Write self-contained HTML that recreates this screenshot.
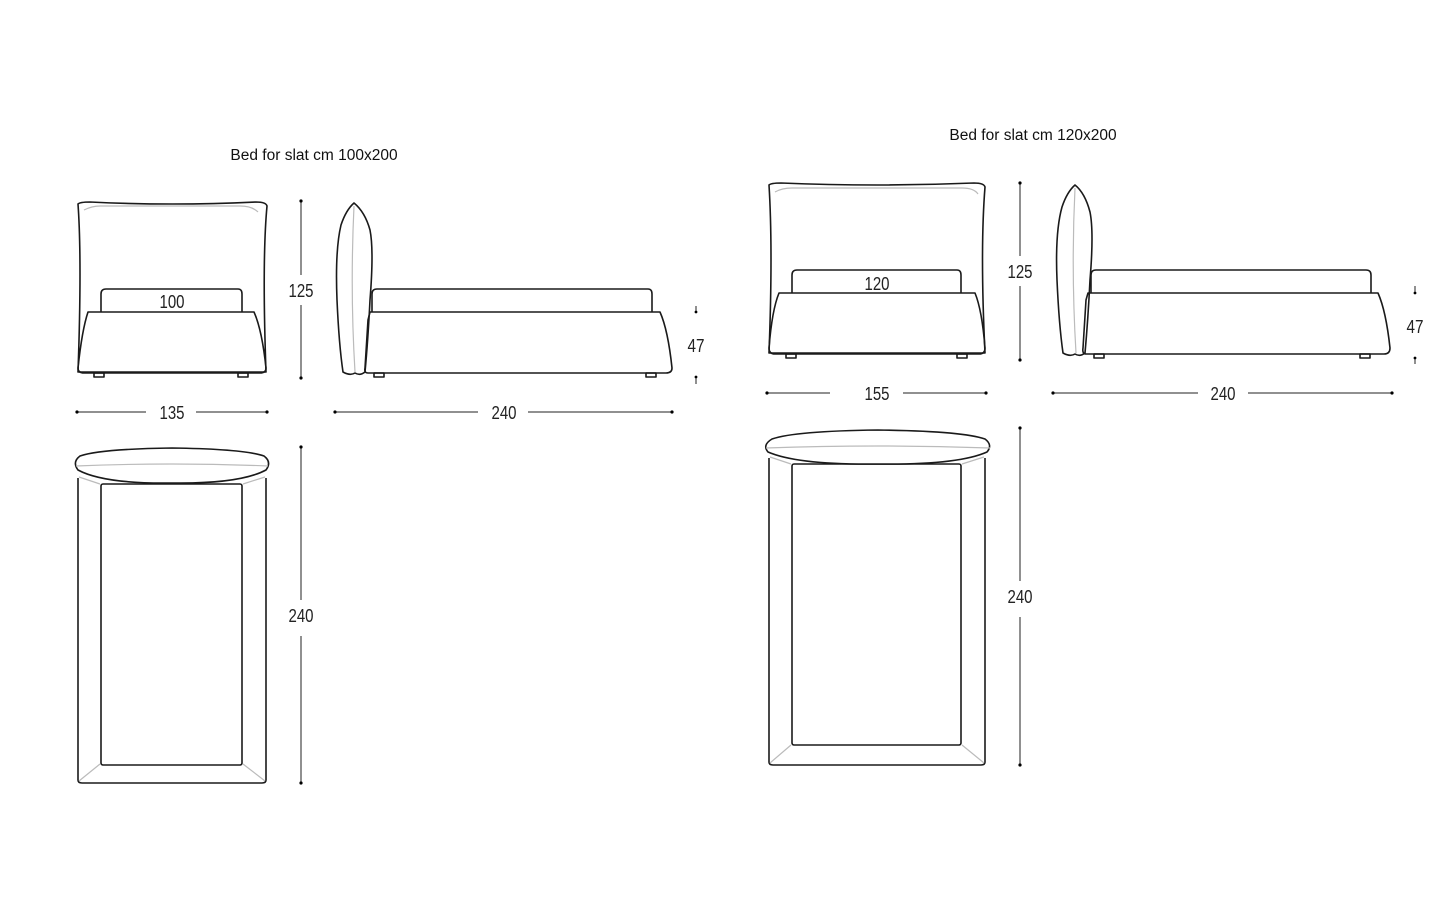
<!DOCTYPE html>
<html><head><meta charset="utf-8"><style>
html,body{margin:0;padding:0;background:#fff;width:1440px;height:900px;overflow:hidden}
svg{display:block}
.o{fill:none;stroke:#1a1a1a;stroke-width:1.6;stroke-linejoin:round}
.g{fill:none;stroke:#bbb;stroke-width:1.2}
.d{stroke:#222;stroke-width:1}
.t{font-family:"Liberation Sans",sans-serif;font-size:18px;fill:#222;text-anchor:middle}
.h{font-family:"Liberation Sans",sans-serif;font-size:15.5px;fill:#111;text-anchor:middle}
</style></head><body>
<svg width="1440" height="900" viewBox="0 0 1440 900">
<text class="h" x="314" y="160">Bed for slat cm 100x200</text>
<text class="h" x="1033" y="140">Bed for slat cm 120x200</text>

<!-- LEFT FRONT -->
<path class="o" d="M78,204 Q80,202 90,202 Q172,206 256,202 Q266,202 267,206 Q262,260 266,372 L78,372 Q82,260 78,204 Z"/>
<path class="g" d="M84,210 Q92,206 100,206 L240,206 Q252,206 258,212"/>
<path class="o" d="M101,312 L101,294 Q101,289 106,289 L238,289 Q242,289 242,294 L242,312"/>
<path class="o" d="M88,312 L254,312 Q262,330 266,368 Q266,373 260,373 L84,373 Q78,373 78,368 Q82,330 88,312 Z"/>
<rect class="o" x="94" y="373" width="10" height="4"/><rect class="o" x="238" y="373" width="10" height="4"/>
<line class="d" x1="301" y1="201" x2="301" y2="275"/><line class="d" x1="301" y1="305" x2="301" y2="378"/>
<circle cx="301" cy="201" r="1.6"/><circle cx="301" cy="378" r="1.6"/>
<text class="t" x="301" y="297" textLength="25" lengthAdjust="spacingAndGlyphs">125</text>
<text class="t" x="172" y="308" textLength="25" lengthAdjust="spacingAndGlyphs">100</text>
<line class="d" x1="77" y1="412" x2="146" y2="412"/><line class="d" x1="196" y1="412" x2="267" y2="412"/>
<circle cx="77" cy="412" r="1.6"/><circle cx="267" cy="412" r="1.6"/>
<text class="t" x="172" y="419" textLength="25" lengthAdjust="spacingAndGlyphs">135</text>

<!-- LEFT SIDE -->
<path class="o" d="M354,203 Q346,210 341,225 Q335,250 337,300 Q339,345 343,372 Q350,376 355,373 Q360,376 365,372 Q368,340 370,300 Q374,250 370,230 Q365,212 354,203 Z"/>
<path class="g" d="M354,206 Q350,290 355,372"/>
<path class="o" d="M372,312 L372,294 Q372,289 377,289 L648,289 Q652,289 652,294 L652,312"/>
<path class="o" d="M370,312 L660,312 Q668,330 672,368 Q672,373 666,373 L368,373 Q364,373 365,368 L368,320 Z"/>
<rect class="o" x="374" y="373" width="10" height="4"/><rect class="o" x="646" y="373" width="10" height="4"/>
<line class="d" x1="335" y1="412" x2="478" y2="412"/><line class="d" x1="528" y1="412" x2="672" y2="412"/>
<circle cx="335" cy="412" r="1.6"/><circle cx="672" cy="412" r="1.6"/>
<text class="t" x="504" y="419" textLength="25" lengthAdjust="spacingAndGlyphs">240</text>
<line class="d" x1="696" y1="306" x2="696" y2="312"/><circle cx="696" cy="312" r="1.4"/>
<line class="d" x1="696" y1="378" x2="696" y2="384"/><circle cx="696" cy="377" r="1.4"/>
<text class="t" x="696" y="352" textLength="17" lengthAdjust="spacingAndGlyphs">47</text>

<!-- LEFT TOP -->
<path class="o" d="M78,478 L78,780 Q78,783 82,783 L262,783 Q266,783 266,780 L266,478"/>
<rect class="o" x="101" y="484" width="141" height="281" rx="2"/>
<path class="g" d="M79,477 L100,484 M265,477 L243,484 M79,781 L100,764 M265,781 L243,764"/>
<path class="o" fill="#fff" d="M80,456 Q100,449 172,448 Q244,449 264,456 Q272,462 266,470 Q240,484 172,483 Q104,484 78,470 Q72,462 80,456 Z" style="fill:#fff"/>
<path class="g" d="M76,466 Q172,462 268,466"/>
<line class="d" x1="301" y1="447" x2="301" y2="600"/><line class="d" x1="301" y1="636" x2="301" y2="783"/>
<circle cx="301" cy="447" r="1.6"/><circle cx="301" cy="783" r="1.6"/>
<text class="t" x="301" y="622" textLength="25" lengthAdjust="spacingAndGlyphs">240</text>

<!-- RIGHT FRONT -->
<path class="o" d="M769,185 Q771,183 781,183 Q877,187 974,183 Q984,183 985,187 Q980,250 985,353 L769,353 Q773,250 769,185 Z"/>
<path class="g" d="M775,192 Q782,188 792,188 L962,188 Q974,188 978,194"/>
<path class="o" d="M792,293 L792,275 Q792,270 797,270 L957,270 Q961,270 961,275 L961,293"/>
<path class="o" d="M779,293 L975,293 Q982,310 985,348 Q985,354 979,354 L775,354 Q769,354 769,348 Q772,310 779,293 Z"/>
<rect class="o" x="786" y="354" width="10" height="4"/><rect class="o" x="957" y="354" width="10" height="4"/>
<line class="d" x1="1020" y1="183" x2="1020" y2="256"/><line class="d" x1="1020" y1="286" x2="1020" y2="360"/>
<circle cx="1020" cy="183" r="1.6"/><circle cx="1020" cy="360" r="1.6"/>
<text class="t" x="1020" y="278" textLength="25" lengthAdjust="spacingAndGlyphs">125</text>
<text class="t" x="877" y="290" textLength="25" lengthAdjust="spacingAndGlyphs">120</text>
<line class="d" x1="767" y1="393" x2="830" y2="393"/><line class="d" x1="870" y1="393" x2="870" y2="393"/><line class="d" x1="903" y1="393" x2="986" y2="393"/>
<circle cx="767" cy="393" r="1.6"/><circle cx="986" cy="393" r="1.6"/>
<text class="t" x="877" y="400" textLength="25" lengthAdjust="spacingAndGlyphs">155</text>

<!-- RIGHT SIDE -->
<path class="o" d="M1075,185 Q1067,192 1062,207 Q1055,232 1057,280 Q1059,325 1063,353 Q1070,357 1075,354 Q1080,357 1085,353 Q1088,320 1090,280 Q1094,232 1090,212 Q1085,193 1075,185 Z"/>
<path class="g" d="M1075,188 Q1071,270 1076,353"/>
<path class="o" d="M1091,293 L1091,275 Q1091,270 1096,270 L1366,270 Q1371,270 1371,275 L1371,293"/>
<path class="o" d="M1088,293 L1378,293 Q1386,311 1390,348 Q1390,354 1384,354 L1086,354 Q1082,354 1083,348 L1086,300 Z"/>
<rect class="o" x="1094" y="354" width="10" height="4"/><rect class="o" x="1360" y="354" width="10" height="4"/>
<line class="d" x1="1053" y1="393" x2="1198" y2="393"/><line class="d" x1="1248" y1="393" x2="1392" y2="393"/>
<circle cx="1053" cy="393" r="1.6"/><circle cx="1392" cy="393" r="1.6"/>
<text class="t" x="1223" y="400" textLength="25" lengthAdjust="spacingAndGlyphs">240</text>
<line class="d" x1="1415" y1="286" x2="1415" y2="292"/><circle cx="1415" cy="293" r="1.4"/>
<line class="d" x1="1415" y1="358" x2="1415" y2="364"/><circle cx="1415" cy="358" r="1.4"/>
<text class="t" x="1415" y="333" textLength="17" lengthAdjust="spacingAndGlyphs">47</text>

<!-- RIGHT TOP -->
<path class="o" d="M769,458 L769,762 Q769,765 773,765 L981,765 Q985,765 985,762 L985,458"/>
<rect class="o" x="792" y="464" width="169" height="281" rx="2"/>
<path class="g" d="M770,457 L791,464 M984,457 L962,464 M770,763 L791,745 M984,763 L962,745"/>
<path class="o" style="fill:#fff" d="M772,439 Q795,431 878,430 Q962,431 985,439 Q993,445 987,452 Q958,465 878,464 Q798,465 768,452 Q762,445 772,439 Z"/>
<path class="g" d="M766,448 Q878,444 990,448"/>
<line class="d" x1="1020" y1="428" x2="1020" y2="581"/><line class="d" x1="1020" y1="617" x2="1020" y2="765"/>
<circle cx="1020" cy="428" r="1.6"/><circle cx="1020" cy="765" r="1.6"/>
<text class="t" x="1020" y="603" textLength="25" lengthAdjust="spacingAndGlyphs">240</text>
</svg>
</body></html>
